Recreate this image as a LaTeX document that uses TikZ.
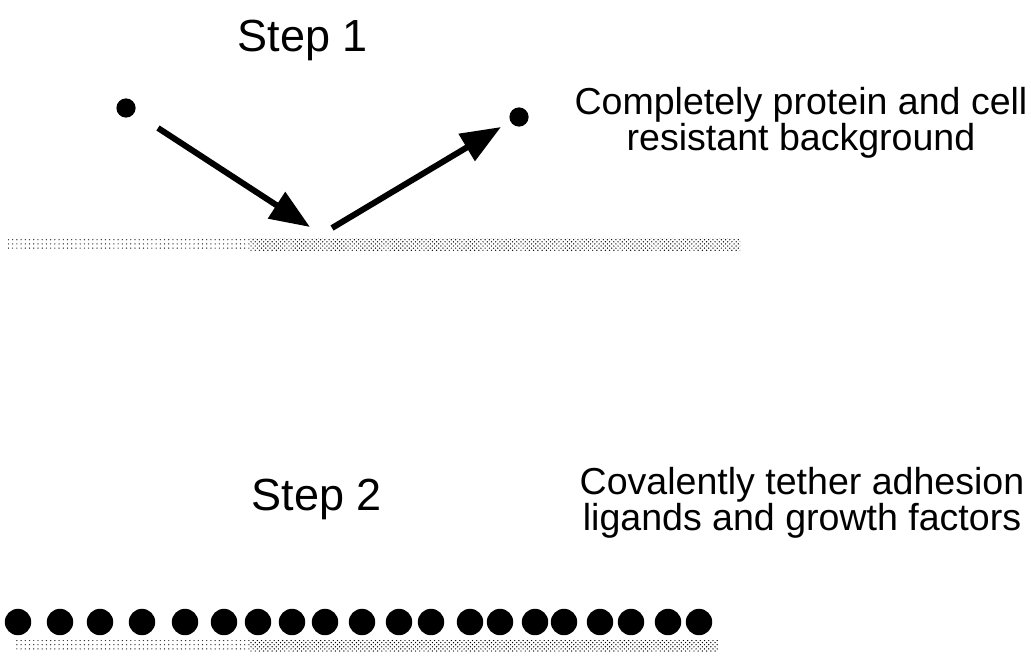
\documentclass[tikz,border=0pt]{standalone}
\usepackage{fontspec}
\setmainfont{Liberation Sans}
\usetikzlibrary{arrows.meta, patterns}

\tikzset{
  steplabel/.style={font=\fontsize{32}{38}\selectfont, anchor=base, inner sep=0pt},
  note/.style={font=\fontsize{26.7}{26}\selectfont, align=center, inner sep=0pt},
  freedot/.style={circle, fill=black, inner sep=0pt, minimum size=4.8mm},
  boundot/.style={circle, fill=black, inner sep=0pt, minimum size=6.6mm},
  bigarrow/.style={-{Triangle[length=10mm, width=7.6mm]}, line width=1.5mm},
  surface/.style={pattern=crosshatch dots, pattern color=black},
  sparse/.style={pattern=dots, pattern color=black!80}
}

\begin{document}
\begin{tikzpicture}[x=0.025cm, y=-0.025cm]
      \useasboundingbox (0,0) rectangle (1031,670);

      % Step 1
      \node[steplabel] (stepone) at (303,52) {Step 1};
      \node[note] (noteone) at (801,123) {Completely protein and cell\\resistant background};

      % Protein in solution, bouncing off the surface
      \node[freedot] (inA) at (126,108) {};
      \node[freedot] (outA) at (519,117) {};
      \coordinate (inT) at (158,128);
      \coordinate (inH) at (310,227);
      \coordinate (outT) at (332,228);
      \coordinate (outH) at (501,127);
      \draw[bigarrow] (inT) -- (inH);
      \draw[bigarrow] (outT) -- (outH);

      % Resistant background
      \fill[sparse] (8,238) rectangle (250,250);
      \fill[surface] (250,238) rectangle (740,250);

      % Step 2
      \node[steplabel] (steptwo) at (317,510) {Step 2};
      \node[note] (notetwo) at (802,503) {Covalently tether adhesion\\ligands and growth factors};

      % Tethered ligands
      \foreach \x [count=\i] in {18,60,100,142,185,224,258,292,325,362,399,431,470,500,535,564,600,631,668,699}
        \node[boundot] (lig\i) at (\x,622) {};

      % Surface under the ligands
      \fill[sparse] (15,640) rectangle (250,651);
      \fill[surface] (250,640) rectangle (718,651);
    \end{tikzpicture}
\end{document}
